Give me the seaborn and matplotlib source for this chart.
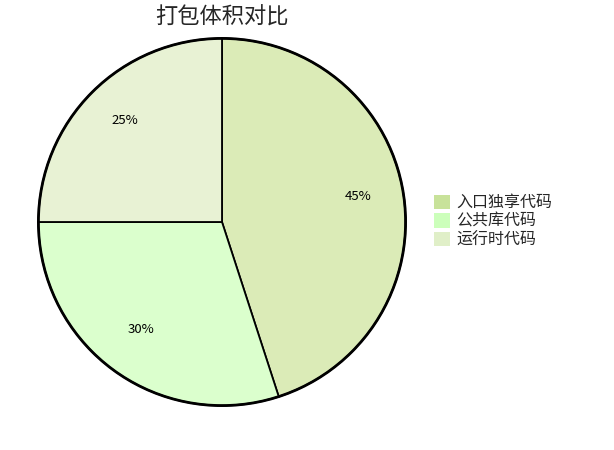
import matplotlib
matplotlib.use("Agg")
import matplotlib.pyplot as plt
import matplotlib.transforms as mtransforms
import seaborn as sns
from matplotlib.patches import Patch, Circle

categories = ["入口独享代码", "公共库代码", "运行时代码"]
values = [45, 30, 25]
slice_colors = ["#dbebb7", "#dbffcd", "#e8f2d4"]
legend_colors = ["#c8e29a", "#ccffbb", "#e0efc8"]
title = "打包体积对比"

sns.set_style("white")
plt.rcParams['font.family'] = ['Noto Sans CJK SC', 'DejaVu Sans']

fig = plt.figure(figsize=(6.14, 4.5), dpi=100)
w = 0.604
h = w * 614 / 450
ax = fig.add_axes([222 / 614 - w / 2, 1 - 222 / 450 - h / 2, w, h])
wedges, texts, autotexts = ax.pie(
    values, colors=slice_colors, startangle=90, counterclock=False,
    autopct="%d%%", pctdistance=0.75,
    wedgeprops=dict(edgecolor="black", linewidth=1.3),
    textprops=dict(fontsize=9.5, color="black"),
)
for t in autotexts:
    t.set_va("center")
    t.set_transform(mtransforms.offset_copy(ax.transData, fig=fig, x=0, y=4, units="dots"))
ax.add_patch(Circle((0, 0), 1, fill=False, edgecolor="black", linewidth=2))
ax.set_xlim(-1.01, 1.01)
ax.set_ylim(-1.01, 1.01)
ax.set_aspect("equal")
fig.text(0.3616, 0.962, title, ha="center", va="center", fontsize=16)

handles = [Patch(facecolor=c, edgecolor="none") for c in legend_colors]
fig.legend(handles, categories, loc="center left", bbox_to_anchor=(0.697, 0.508),
           frameon=False, fontsize=11.5, handlelength=1.0, handleheight=1.0,
           handletextpad=0.35, labelspacing=0.1, borderaxespad=0)
fig.savefig("out.png", dpi=100, facecolor="white")
